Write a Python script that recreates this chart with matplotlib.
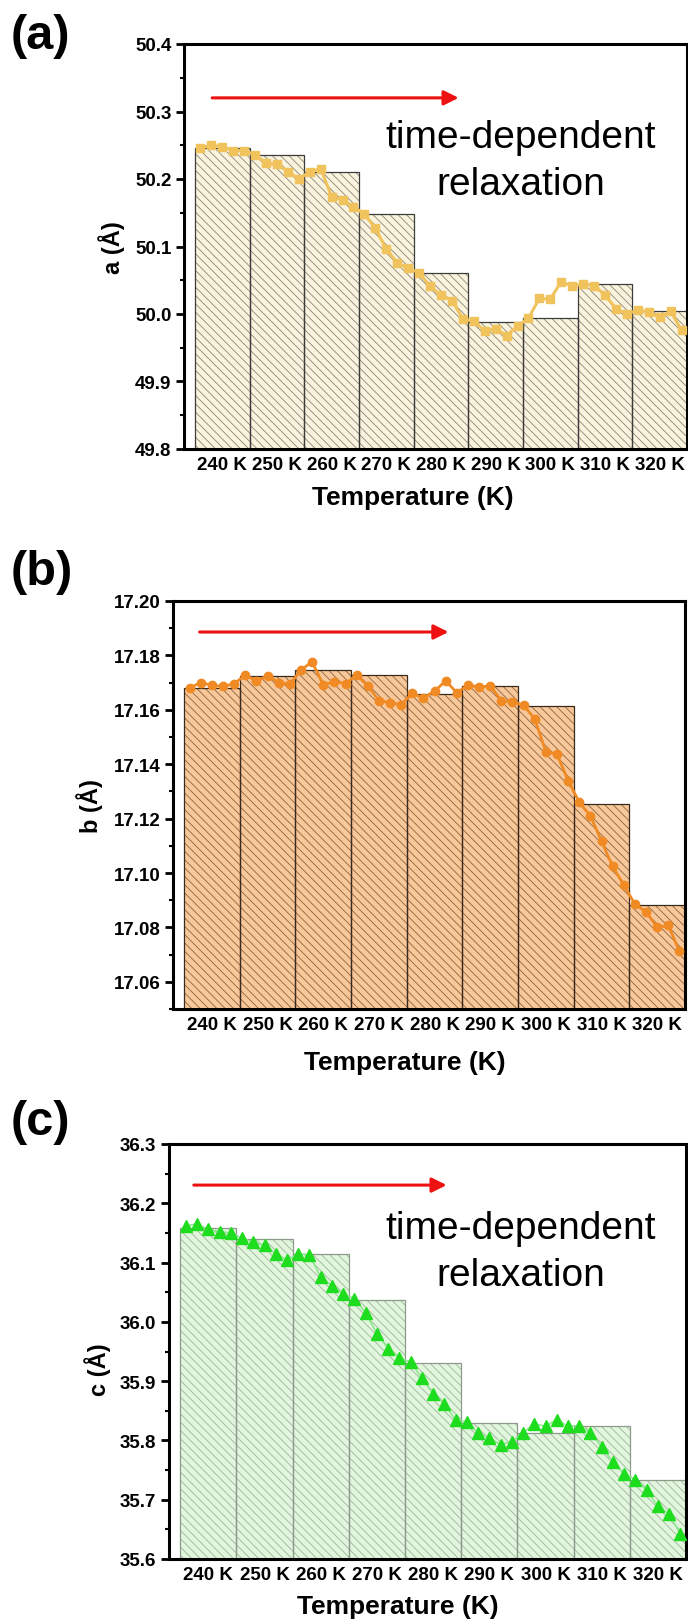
import numpy as np
import matplotlib.pyplot as plt
from matplotlib.ticker import MultipleLocator, FormatStrFormatter

plt.rcParams['font.family'] = ['Liberation Sans', 'DejaVu Sans']
plt.rcParams['hatch.linewidth'] = 0.6

# temperature steps (one bar per step, five time-resolved points inside each)
temperatures = ['240 K', '250 K', '260 K', '270 K', '280 K',
                '290 K', '300 K', '310 K', '320 K']

# lattice parameter a (Angstrom)
a_bars = [50.246, 50.235, 50.211, 50.148, 50.060, 49.988, 49.994, 50.044, 50.005]
a_points = [50.246, 50.250, 50.248, 50.242, 50.242,
            50.236, 50.223, 50.222, 50.211, 50.200,
            50.211, 50.215, 50.174, 50.169, 50.159,
            50.148, 50.127, 50.096, 50.076, 50.068,
            50.061, 50.041, 50.028, 50.020, 49.993,
            49.989, 49.975, 49.978, 49.968, 49.982,
            49.994, 50.023, 50.022, 50.048, 50.041,
            50.045, 50.042, 50.028, 50.008, 50.000,
            50.006, 50.003, 49.995, 50.004, 49.976]

# lattice parameter b (Angstrom)
b_bars = [17.1680, 17.1725, 17.1746, 17.1728, 17.1657, 17.1689, 17.1613, 17.1254, 17.0884]
b_points = [17.1681, 17.1700, 17.1690, 17.1686, 17.1696,
            17.1728, 17.1706, 17.1725, 17.1700, 17.1694,
            17.1746, 17.1777, 17.1691, 17.1704, 17.1696,
            17.1728, 17.1688, 17.1634, 17.1626, 17.1619,
            17.1660, 17.1644, 17.1669, 17.1706, 17.1663,
            17.1691, 17.1684, 17.1688, 17.1634, 17.1629,
            17.1617, 17.1566, 17.1446, 17.1436, 17.1340,
            17.1260, 17.1210, 17.1117, 17.1024, 17.0956,
            17.0885, 17.0857, 17.0800, 17.0807, 17.0712]

# lattice parameter c (Angstrom)
c_bars = [36.159, 36.140, 36.114, 36.037, 35.930, 35.829, 35.812, 35.8235, 35.734]
c_points = [36.162, 36.165, 36.156, 36.152, 36.150,
            36.141, 36.134, 36.129, 36.115, 36.104,
            36.115, 36.113, 36.075, 36.061, 36.047,
            36.039, 36.015, 35.980, 35.955, 35.939,
            35.932, 35.905, 35.878, 35.862, 35.834,
            35.831, 35.813, 35.804, 35.793, 35.798,
            35.813, 35.828, 35.824, 35.835, 35.824,
            35.825, 35.813, 35.789, 35.764, 35.744,
            35.734, 35.716, 35.689, 35.676, 35.642]

W, H = 688, 1624
fig = plt.figure(figsize=(W / 100, H / 100), dpi=100)


def box(left, top, right, bottom):
    # pixel box -> figure fraction [x0, y0, w, h]
    return [left / W, 1 - bottom / H, (right - left) / W, (bottom - top) / H]


def draw_panel(ax, bars, points, ylim, major, fmt, face, hatch_col, edge,
               mcolor, lcolor, marker, msize, lw, ylabel, ylab_x, ylab_y,
               arrow, note=None):
    x = np.arange(len(bars))
    # bar fill + hatch, then the outline on top
    ax.bar(x, np.array(bars) - ylim[0], bottom=ylim[0], width=1.0, color=face,
           hatch='\\\\\\\\', edgecolor=hatch_col, linewidth=0, zorder=1)
    ax.bar(x, np.array(bars) - ylim[0], bottom=ylim[0], width=1.0,
           facecolor='none', edgecolor=edge, linewidth=0.9, zorder=2)

    xs = (x[:, None] + np.array([-0.4, -0.2, 0.0, 0.2, 0.4])[None, :]).ravel()
    ax.plot(xs, points, color=lcolor, lw=lw, marker=marker, ms=msize,
            mfc=mcolor, mec=mcolor, zorder=3, clip_on=False)

    ax.set_xlim(-0.7, 8.5)
    ax.set_ylim(*ylim)
    ax.set_xticks(x)
    ax.set_xticklabels(temperatures, fontsize=13.5, fontweight='bold')
    ax.tick_params(axis='x', length=0, pad=5)
    ax.yaxis.set_major_locator(MultipleLocator(major))
    ax.yaxis.set_minor_locator(MultipleLocator(major / 2))
    ax.yaxis.set_major_formatter(FormatStrFormatter(fmt))
    ax.tick_params(axis='y', which='major', direction='out', length=6, width=2,
                   labelsize=13.5, pad=3)
    ax.tick_params(axis='y', which='minor', direction='out', length=3, width=1.5)
    for lab in ax.get_yticklabels():
        lab.set_fontweight('bold')
    for sp in ax.spines.values():
        sp.set_linewidth(2.2)

    ax.set_ylabel(ylabel, fontsize=17, fontweight='bold', va='center')
    ax.yaxis.set_label_coords(ylab_x, ylab_y)

    ax.annotate('', xy=(arrow[1], arrow[2]), xytext=(arrow[0], arrow[2]),
                xycoords='axes fraction',
                arrowprops=dict(arrowstyle='-|>', color='#EE1111', lw=2.2,
                                mutation_scale=22, shrinkA=0, shrinkB=0))
    if note is not None:
        # y is the baseline of the second line
        ax.text(note[0], note[1], 'time-dependent\nrelaxation',
                transform=ax.transAxes, ha='center', va='baseline',
                fontsize=28, linespacing=1.4, zorder=4)


ax_a = fig.add_axes(box(184, 45, 687, 450))
draw_panel(ax_a, a_bars, a_points, (49.8, 50.4), 0.1, '%.1f',
           face='#FAF3DE', hatch_col='#8A8577', edge='#3C3C3C',
           mcolor='#F0C35C', lcolor='#F0C35C', marker='s', msize=5.5, lw=2.2,
           ylabel='a (Å)', ylab_x=-0.143, ylab_y=0.5,
           arrow=(0.056, 0.546, 0.867), note=(0.670, 0.630))

ax_b = fig.add_axes(box(173, 602, 685, 1010))
draw_panel(ax_b, b_bars, b_points, (17.05, 17.20), 0.02, '%.2f',
           face='#F8C89A', hatch_col='#8C6440', edge='#3A2A1C',
           mcolor='#F08A24', lcolor='#F08A24', marker='o', msize=6, lw=2.0,
           ylabel='b (Å)', ylab_x=-0.162, ylab_y=0.5,
           arrow=(0.052, 0.538, 0.924))

ax_c = fig.add_axes(box(169, 1145, 686, 1560))
draw_panel(ax_c, c_bars, c_points, (35.6, 36.3), 0.1, '%.1f',
           face='#E2F6DE', hatch_col='#9DB59A', edge='#8E9A8C',
           mcolor='#1EDC1E', lcolor='#8EE88E', marker='^', msize=8, lw=1.2,
           ylabel='c (Å)', ylab_x=-0.139, ylab_y=0.458,
           arrow=(0.048, 0.537, 0.901), note=(0.681, 0.660))

# panel letters and shared x titles
for letter, top in [('(a)', 14), ('(b)', 550), ('(c)', 1100)]:
    fig.text(11 / W, 1 - top / H, letter, fontsize=35, fontweight='bold',
             ha='left', va='top')
for xc, yc in [(413, 498), (405, 1063), (398, 1607)]:
    fig.text(xc / W, 1 - yc / H, 'Temperature (K)', fontsize=19,
             fontweight='bold', ha='center', va='center')

fig.savefig('out.png', dpi=100)
